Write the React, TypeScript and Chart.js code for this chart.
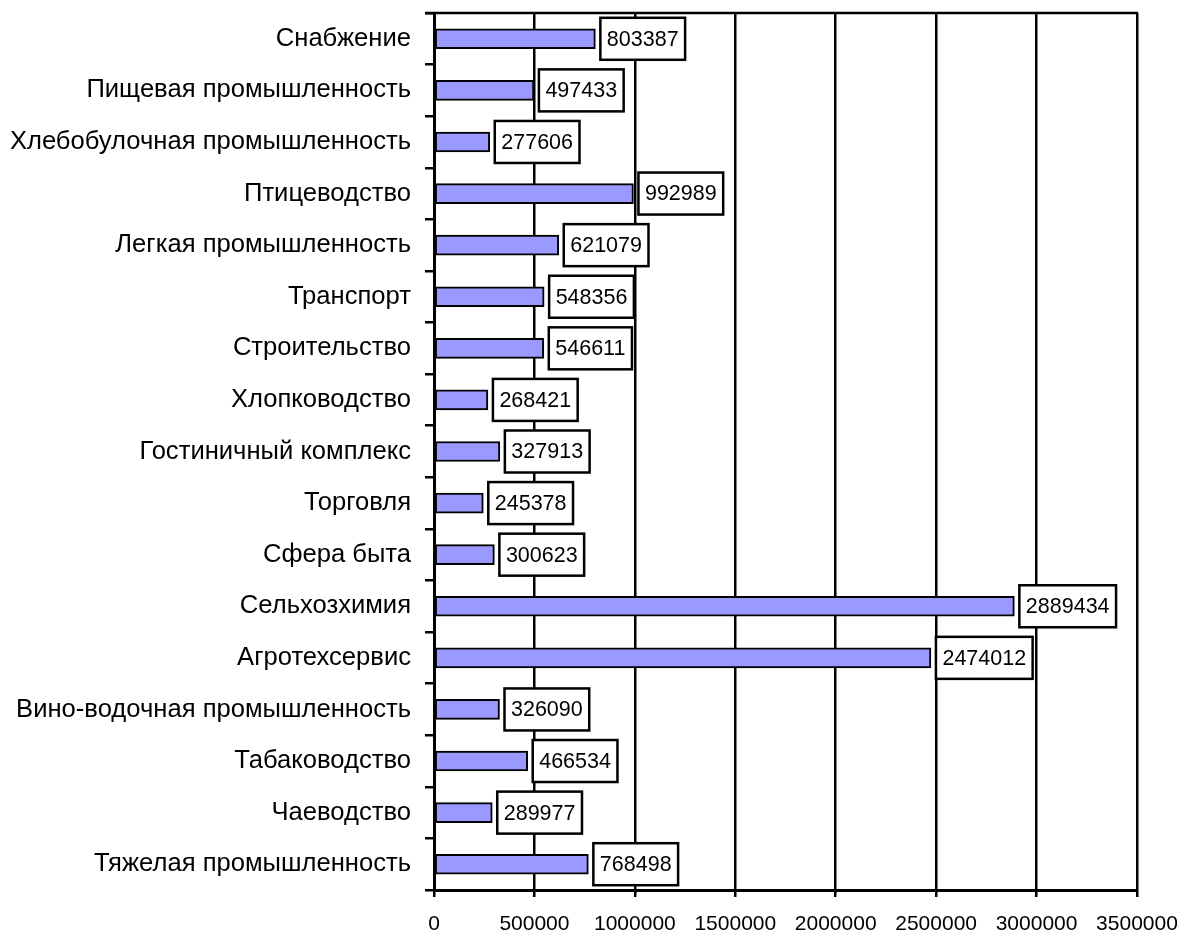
import React, { useEffect, useRef } from "react";
import { Chart, registerables } from "chart.js";

Chart.register(...registerables);

const categories = [
  "Снабжение",
  "Пищевая промышленность",
  "Хлебобулочная промышленность",
  "Птицеводство",
  "Легкая промышленность",
  "Транспорт",
  "Строительство",
  "Хлопководство",
  "Гостиничный комплекс",
  "Торговля",
  "Сфера быта",
  "Сельхозхимия",
  "Агротехсервис",
  "Вино-водочная промышленность",
  "Табаководство",
  "Чаеводство",
  "Тяжелая промышленность",
];

const values = [
  803387, 497433, 277606, 992989, 621079, 548356, 546611, 268421, 327913,
  245378, 300623, 2889434, 2474012, 326090, 466534, 289977, 768498,
];

const xTicks = [0, 500000, 1000000, 1500000, 2000000, 2500000, 3000000, 3500000];

const FONT = "'Liberation Sans', Arial, sans-serif";

const labelPlugin = {
  id: "valueBoxes",
  afterDatasetsDraw(chart: any) {
    const ctx = chart.ctx;
    const meta = chart.getDatasetMeta(0);
    const ds = chart.data.datasets[0];
    ctx.save();
    ctx.font = `21.5px ${FONT}`;
    ctx.textBaseline = "middle";
    ctx.textAlign = "left";
    meta.data.forEach((el: any, i: number) => {
      const text = String(ds.data[i]);
      const w = ctx.measureText(text).width;
      const bx = el.x + 5;
      const bh = 42;
      const bw = w + 13;
      const by = el.y - bh / 2;
      ctx.fillStyle = "#ffffff";
      ctx.fillRect(bx, by, bw, bh);
      ctx.lineWidth = 2.5;
      ctx.strokeStyle = "#000000";
      ctx.strokeRect(bx, by, bw, bh);
      ctx.fillStyle = "#000000";
      ctx.fillText(text, bx + 6.5, el.y + 1);
    });
    ctx.restore();
  },
  beforeDatasetsDraw(chart: any) {
    const ctx = chart.ctx;
    const a = chart.chartArea;
    ctx.save();
    ctx.strokeStyle = "#000000";
    ctx.lineWidth = 2.5;
    ctx.beginPath();
    ctx.moveTo(a.left - 9, a.top);
    ctx.lineTo(a.right + 1, a.top);
    ctx.stroke();
    ctx.restore();
  },
};

export default function App() {
  const ref = useRef<HTMLCanvasElement | null>(null);

  useEffect(() => {
    if (!ref.current) return;
    const chart = new Chart(ref.current, {
      type: "bar",
      data: {
        labels: categories,
        datasets: [
          {
            data: values,
            backgroundColor: "#9999FF",
            borderColor: "#000000",
            borderWidth: 2,
            borderSkipped: false,
            barThickness: 20,
          },
        ],
      },
      options: {
        indexAxis: "y",
        responsive: false,
        animation: false,
        devicePixelRatio: 1,
        layout: { padding: { top: 13, right: 44, bottom: 0, left: 0 } },
        plugins: {
          legend: { display: false },
          tooltip: { enabled: false },
        },
        scales: {
          x: {
            type: "linear",
            min: 0,
            max: 3500000,
            afterFit: (s: any) => {
              s.height = 42;
              s.paddingLeft = 0;
              s.paddingRight = 0;
            },
            afterBuildTicks: (s: any) => {
              s.ticks = xTicks.map((v) => ({ value: v }));
            },
            ticks: {
              color: "#000000",
              font: { family: FONT, size: 21 },
              padding: 15,
              maxRotation: 0,
              autoSkip: false,
              callback: (v: any) => String(v),
            },
            grid: {
              color: "#000000",
              lineWidth: 2.5,
              tickLength: 7,
              drawOnChartArea: true,
            },
            border: { display: true, color: "#000000", width: 3 },
          },
          y: {
            type: "category",
            afterFit: (s: any) => {
              s.width = 434;
              s.paddingTop = 0;
              s.paddingBottom = 0;
            },
            ticks: {
              color: "#000000",
              font: { family: FONT, size: 25.6 },
              padding: 14,
              autoSkip: false,
            },
            grid: {
              offset: true,
              drawOnChartArea: false,
              color: "#000000",
              lineWidth: 2.5,
              tickLength: 9,
            },
            border: { display: true, color: "#000000", width: 3 },
          },
        },
      },
      plugins: [labelPlugin],
    });
    return () => chart.destroy();
  }, []);

  return (
    <div style={{ position: "fixed", left: 0, top: 0, width: 1181, height: 932, background: "#fff" }}>
      <canvas ref={ref} width={1181} height={932} />
    </div>
  );
}
